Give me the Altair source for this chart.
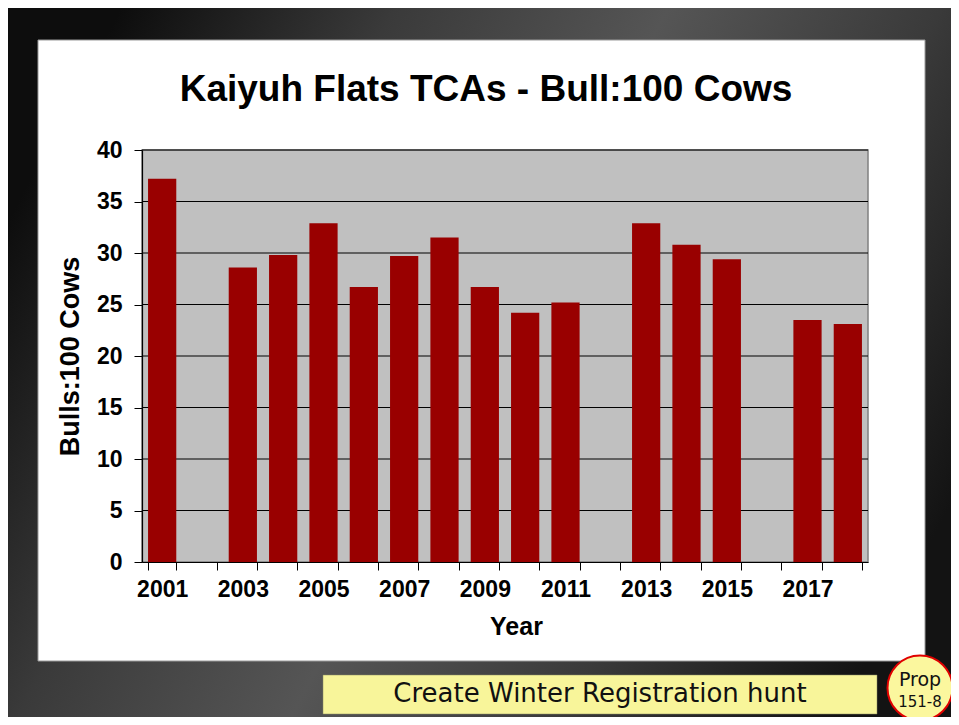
import altair as alt
import pandas as pd

# ---- data ----
years = [str(y) for y in range(2001, 2019)]
bulls_per_100 = [37.2, None, 28.6, 29.8, 32.9, 26.7, 29.7, 31.5, 26.7, 24.2,
                 25.2, None, 32.9, 30.8, 29.4, None, 23.5, 23.1]
y_ticks = [0, 5, 10, 15, 20, 25, 30, 35, 40]
grid_values = [5, 10, 15, 20, 25, 30, 35, 40]
title_text = ["Kaiyuh Flats TCAs - Bull:100 Cows"]
banner_text = ["Create Winter Registration hunt"]
prop_lines = ["Prop", "151-8"]

W, H = 726, 412
PAD = {"left": 134, "top": 142, "right": 83, "bottom": 155}
FONT = "Liberation Sans"

df = pd.DataFrame({"year": years, "bulls": bulls_per_100})
one = pd.DataFrame({"k": [0]})

xscale = alt.Scale(domain=years, paddingInner=0.3, paddingOuter=0.15)
yscale = alt.Scale(domain=[0, 40], nice=False)

yaxis = alt.Axis(values=y_ticks, grid=False, labelFont=FONT, labelFontSize=23,
                 labelFontWeight="bold", labelColor="black", labelPadding=12,
                 tickColor="black", tickSize=8, domainColor="black", domainWidth=1.2,
                 titleFont=FONT, titleFontSize=27, titleFontWeight="bold",
                 titleColor="black", titlePadding=12, zindex=1)

# slide background
bg = alt.Chart(one).mark_rect(
    fill={"gradient": "linear", "x1": 0, "y1": 0.3, "x2": 1, "y2": 0.7,
          "stops": [{"offset": 0, "color": "#0d0d0d"},
                    {"offset": 0.25, "color": "#3a3a3a"},
                    {"offset": 0.5, "color": "#555555"},
                    {"offset": 0.75, "color": "#3a3a3a"},
                    {"offset": 1, "color": "#131313"}]}
).encode(x=alt.value(-PAD["left"]), x2=alt.value(W + PAD["right"]),
         y=alt.value(-PAD["top"]), y2=alt.value(H + PAD["bottom"]))

panel = alt.Chart(one).mark_rect(fill="white", stroke="#9a9a9a", strokeWidth=1).encode(
    x=alt.value(-104), x2=alt.value(783), y=alt.value(-110), y2=alt.value(511))

plotbg = alt.Chart(one).mark_rect(fill="#C0C0C0", stroke="#808080", strokeWidth=1.5).encode(
    x=alt.value(0), x2=alt.value(W), y=alt.value(0), y2=alt.value(H))

grid = alt.Chart(pd.DataFrame({"v": grid_values})).mark_rule(color="black", strokeWidth=1.2).encode(
    y=alt.Y("v:Q", scale=yscale, title="Bulls:100 Cows", axis=yaxis),
    x=alt.value(0), x2=alt.value(W))

bars = alt.Chart(df).mark_bar(color="#990000").encode(
    x=alt.X("year:O", scale=xscale, sort=years, title="Year",
            axis=alt.Axis(labelExpr="parseInt(datum.value) % 2 == 1 ? datum.label : ''",
                          labelAngle=0, labelFont=FONT, labelFontSize=23, labelFontWeight="bold",
                          labelColor="black", labelPadding=8, tickBand="extent",
                          tickColor="black", tickSize=8, domainColor="black", domainWidth=1.2,
                          titleFont=FONT, titleFontSize=25, titleFontWeight="bold",
                          titleColor="black", titlePadding=13, titleX=374, titleAlign="center",
                          zindex=1)),
    y=alt.Y("bulls:Q", scale=yscale, title="Bulls:100 Cows", axis=yaxis),
)

title = alt.Chart(pd.DataFrame({"t": title_text})).mark_text(
    font=FONT, fontSize=37, fontWeight="bold", color="black", baseline="alphabetic", align="center"
).encode(text="t:N", x=alt.value(344), y=alt.value(-49))

banner = alt.Chart(one).mark_rect(fill="#F8F59A", stroke="#8a8a60", strokeWidth=0.5).encode(
    x=alt.value(181), x2=alt.value(735), y=alt.value(525), y2=alt.value(564))

banner_t = alt.Chart(pd.DataFrame({"t": banner_text})).mark_text(
    font="DejaVu Sans", fontSize=26, color="#111111", baseline="middle", align="center"
).encode(text="t:N", x=alt.value(458), y=alt.value(544))

circle = alt.Chart(one).mark_point(shape="circle", filled=True, fill="#FBF79E", stroke="#E00000",
                                    strokeWidth=2, size=4225, opacity=1).encode(
    x=alt.value(778), y=alt.value(538))

prop1 = alt.Chart(pd.DataFrame({"t": [prop_lines[0]]})).mark_text(
    font="DejaVu Sans", fontSize=19, color="#111111", baseline="middle", align="center"
).encode(text="t:N", x=alt.value(778), y=alt.value(530))
prop2 = alt.Chart(pd.DataFrame({"t": [prop_lines[1]]})).mark_text(
    font="DejaVu Sans", fontSize=15, color="#111111", baseline="middle", align="center"
).encode(text="t:N", x=alt.value(778), y=alt.value(552))

chart = alt.layer(bg, panel, plotbg, grid, bars, title, banner, banner_t, circle, prop1, prop2).properties(
    width=W, height=H, padding=PAD, autosize=alt.AutoSizeParams(type="none"),
    background="white"
).configure_view(stroke=None, fill=None)

chart.save("out.html", embed_options={"renderer": "svg", "actions": False})
